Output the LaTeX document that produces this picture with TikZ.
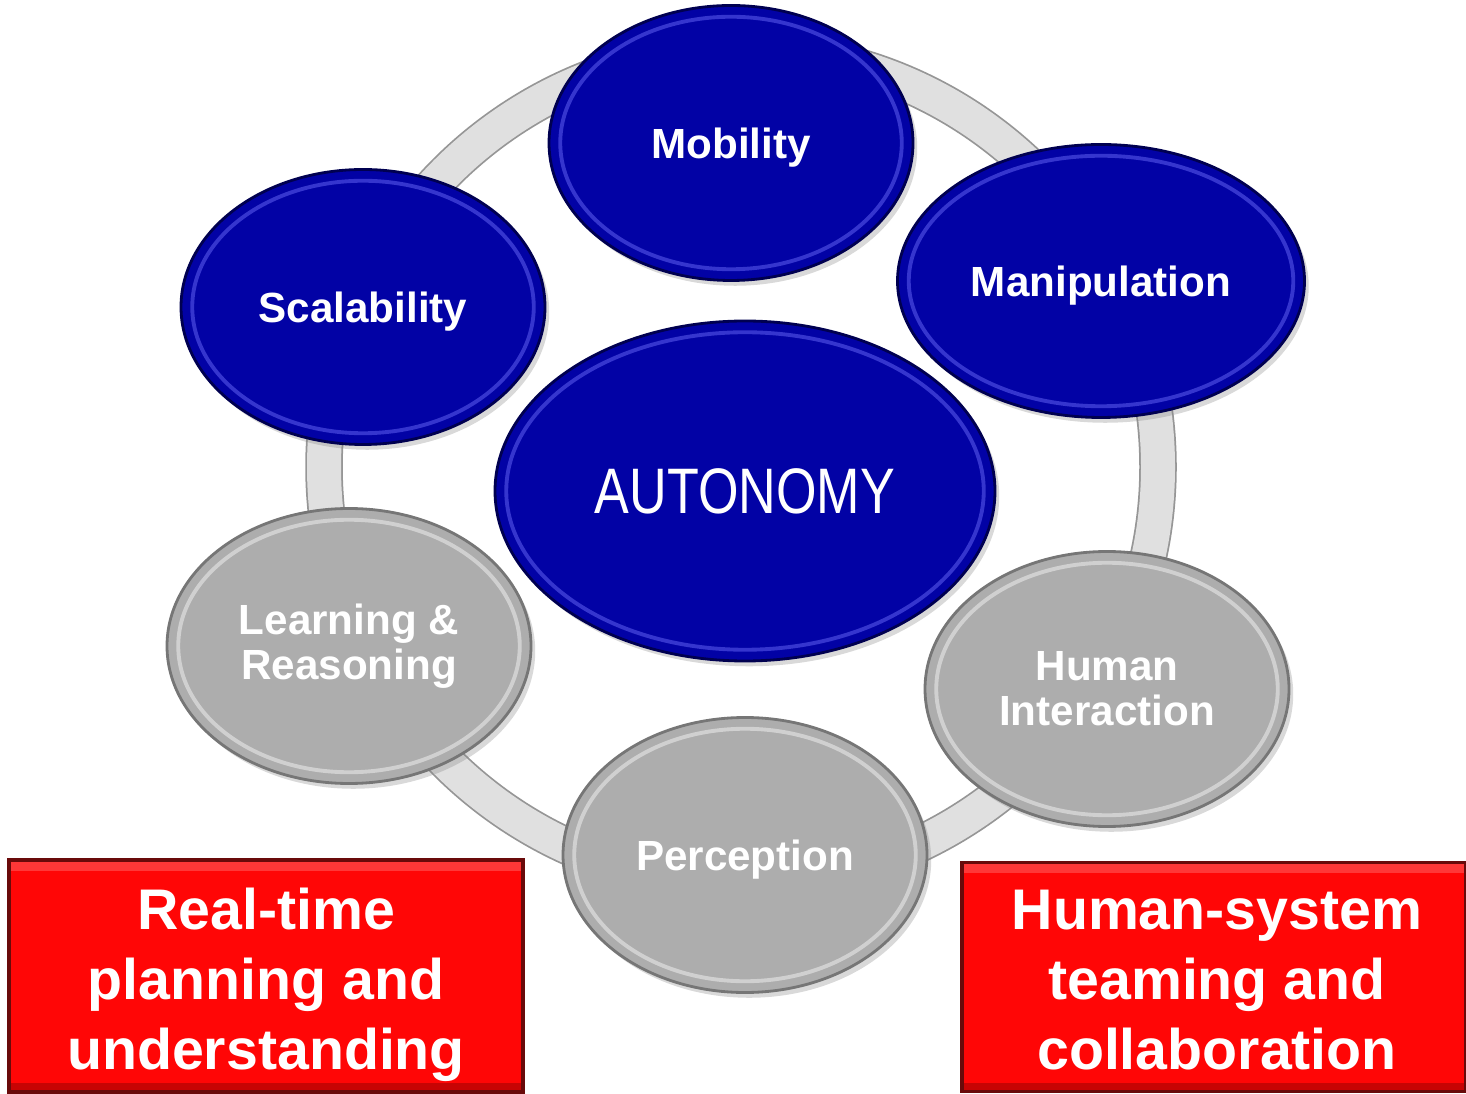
\documentclass[tikz,border=0pt]{standalone}
\usepackage{fontspec}
\setmainfont{Liberation Sans}
\usetikzlibrary{shapes.geometric,shadows,calc}

\definecolor{autoblue}{RGB}{2,2,165}
\definecolor{autoedge}{RGB}{0,0,80}
\definecolor{autorim}{RGB}{95,95,240}
\definecolor{skillgray}{RGB}{173,173,173}
\definecolor{skilledge}{RGB}{118,118,118}
\definecolor{skillrim}{RGB}{238,238,238}
\definecolor{ringfill}{RGB}{224,224,224}
\definecolor{ringedge}{RGB}{150,150,150}
\definecolor{alertred}{RGB}{255,6,6}
\definecolor{alertedge}{RGB}{105,10,10}

\tikzset{
  rimmed/.style={path picture={
      \draw[line width=1.1pt, draw=#1, opacity=0.55]
        let \p1=(path picture bounding box.north east),
            \p2=(path picture bounding box.center) in
        (\p2) ellipse [x radius=\x1-\x2-3.2pt, y radius=\y1-\y2-3.2pt];}},
  goal/.style={ellipse, inner sep=0pt, minimum width=36.4mm, minimum height=27.5mm,
    fill=autoblue, draw=autoedge, line width=0.8pt, text=white, align=center,
    font=\bfseries\fontsize{12}{12.8}\selectfont,
    drop shadow={shadow xshift=1.2pt, shadow yshift=-1.5pt, opacity=0.3},
    rimmed=autorim},
  skill/.style={goal, fill=skillgray, draw=skilledge, rimmed=skillrim},
  ring/.style={draw=ringedge, line width=0.5pt, double=ringfill, double distance=3.4mm},
  redbox/.style={rectangle, inner sep=0pt, fill=alertred, draw=alertedge, line width=0.9pt,
    path picture={
      \fill[white, opacity=0.2] (path picture bounding box.north west)
        rectangle ([yshift=-3pt]path picture bounding box.north east);
      \fill[black, opacity=0.22] ([yshift=2.5pt]path picture bounding box.south west)
        rectangle (path picture bounding box.south east);}},
  boxtext/.style={text=white, align=center, inner sep=0pt,
    font=\bfseries\fontsize{16.3}{19.9}\selectfont}
}

\begin{document}
\begin{tikzpicture}[x=0.1mm, y=-0.1mm]
  \useasboundingbox (0,0) rectangle (1466,1094);

  % grey ring behind the ellipses
  \coordinate (hub) at (741,467);
  \draw[ring] (hub) circle [radius=41.7mm];

  \begin{scope}[every node/.style={goal}]
    \node[text depth=0pt] (mob) at (731,143) {Mobility};
    \node[text depth=0pt, minimum width=40.7mm, minimum height=27.3mm] (man) at (1101,281) {Manipulation};
    \node[text depth=0pt] (sca) at (363,307) {Scalability};
    \node[minimum width=50mm, minimum height=34mm, font=\fontsize{18.3}{20}\selectfont]
      (aut) at (745,491) {\scalebox{0.81}[1]{AUTONOMY}};
  \end{scope}

  \begin{scope}[every node/.style={skill}]
    \node (lea) at (349,646) {Learning \&\\Reasoning};
    \node (hum) at (1107,689) {Human\\Interaction};
    \node[text depth=0pt] (per) at (745,855) {Perception};
  \end{scope}

  \node[redbox, minimum width=51.4mm, minimum height=23.2mm] (planbox) at (266,976) {};
  \node[boxtext] (plan) at (266,985) {Real-time\\planning and\\understanding};
  \node[redbox, minimum width=50.4mm, minimum height=22.9mm] (teambox) at (1214,977) {};
  \node[boxtext] (team) at (1217,980) {Human-system\\teaming and\\collaboration};
\end{tikzpicture}
\end{document}
